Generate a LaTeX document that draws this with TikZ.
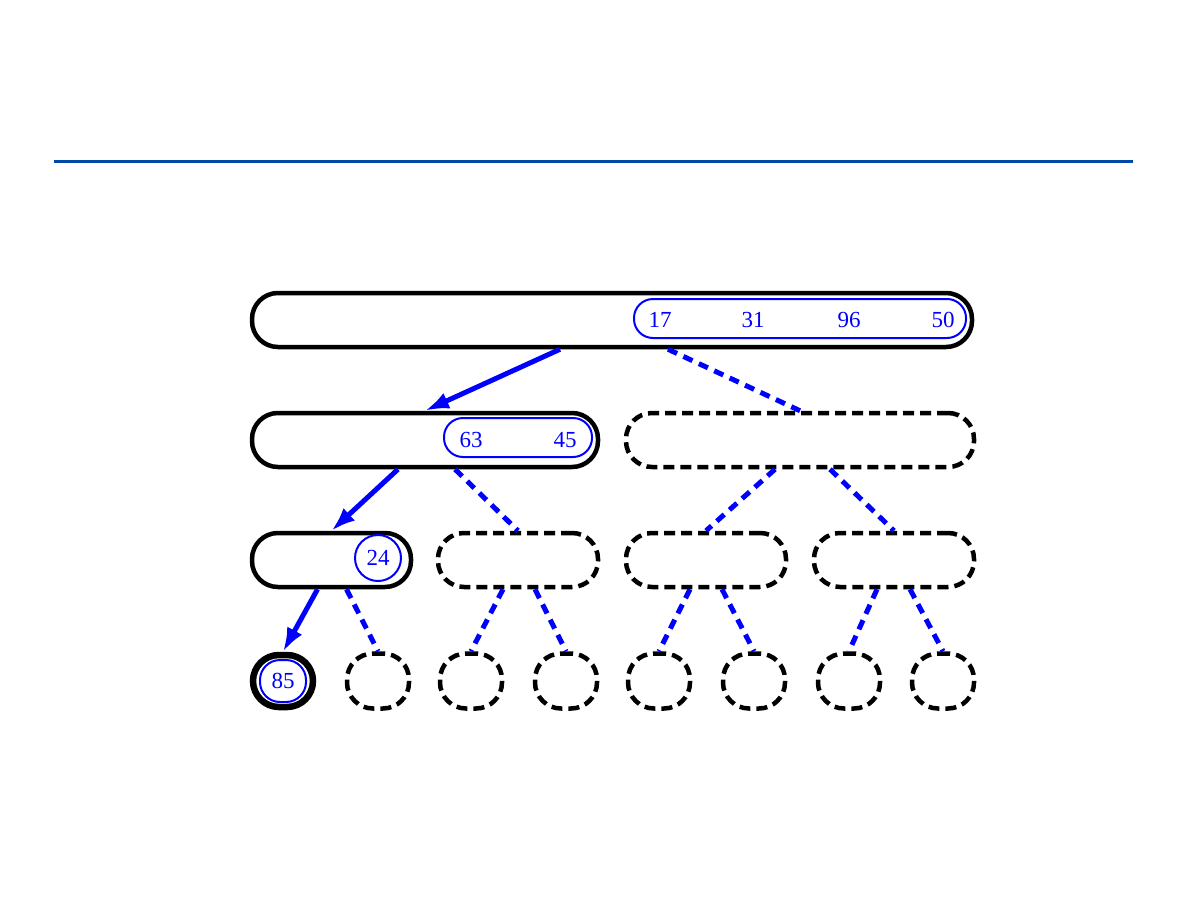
\documentclass[tikz,border=0pt]{standalone}
\usepackage{fontspec}
\setmainfont{Liberation Serif}
\usepackage{tikz}
\usetikzlibrary{arrows.meta}
\definecolor{rulecol}{RGB}{0,72,168}

\begin{document}
\begin{tikzpicture}[x=1pt, y=-1pt, >={Latex[length=24pt,width=17pt]},
	box/.style={draw, line width=4.5pt, rounded corners=26pt, minimum height=54pt, inner sep=0pt},
	emptybox/.style={box, dash pattern=on 11pt off 6pt},
	leaf/.style={draw, line width=4.5pt, rounded corners=26pt, minimum width=62pt, minimum height=55pt, inner sep=0pt, dash pattern=on 11pt off 6pt},
	keys/.style={draw=blue, line width=2pt, rounded corners=19pt, minimum height=39pt, inner sep=0pt},
	num/.style={text=blue, font=\fontsize{23}{27}\selectfont},
	path/.style={->, draw=blue, line width=5pt},
	nopath/.style={draw=blue, line width=5pt, dash pattern=on 10pt off 7pt}]
	\useasboundingbox (0,0) rectangle (1188,918);
	\draw[rulecol, line width=3pt] (54,161) -- (1133,161);
	% Ebene 0
	\node[box, minimum width=720pt] (root) at (612,320) {};
	\node[keys, minimum width=332pt] (rootk) at (800,318.5) {};
	\node[num] (k17) at (660,320) {17};
	\node[num] (k31) at (753,320) {31};
	\node[num] (k96) at (849,320) {96};
	\node[num] (k50) at (943,320) {50};
	% Ebene 1
	\node[box, minimum width=346pt] (a) at (425,440) {};
	\node[keys, minimum width=148pt] (ak) at (518,437.5) {};
	\node[num] (k63) at (471,440) {63};
	\node[num] (k45) at (565,440) {45};
	\node[emptybox, minimum width=348pt] (b) at (800,440) {};
	% Ebene 2
	\node[box, minimum width=159pt] (aa) at (331.5,560) {};
	\node[keys, minimum width=46pt, minimum height=46pt, rounded corners=23pt] (aak) at (378,558) {};
	\node[num] (k24) at (378,558) {24};
	\node[emptybox, minimum width=160pt] (ab) at (518,560) {};
	\node[emptybox, minimum width=160pt] (ba) at (706,560) {};
	\node[emptybox, minimum width=160pt] (bb) at (894,560) {};
	% Ebene 3
	\node[leaf, solid, line width=6.5pt, minimum width=60pt, minimum height=52pt] (aaa) at (283,681) {};
	\node[keys, minimum width=46pt, minimum height=42pt, rounded corners=20pt] (aaak) at (283,681) {};
	\node[num] (k85) at (283,681) {85};
	\node[leaf] (aab) at (378,681) {};
	\node[leaf] (aba) at (471,681) {};
	\node[leaf] (abb) at (566,681) {};
	\node[leaf] (baa) at (659,681) {};
	\node[leaf] (bab) at (754,681) {};
	\node[leaf] (bba) at (849,681) {};
	\node[leaf] (bbb) at (943,681) {};
	% Kanten
	\draw[path] ([xshift=-52pt]root.south) -- (a.north);
	\draw[nopath] ([xshift=56pt]root.south) -- (b.north);
	\draw[path] ([xshift=-27pt]a.south) -- (aa.north);
	\draw[nopath] ([xshift=30pt]a.south) -- (ab.north);
	\draw[nopath] ([xshift=-25pt]b.south) -- (ba.north);
	\draw[nopath] ([xshift=30pt]b.south) -- (bb.north);
	\draw[path] ([xshift=-14pt]aa.south) -- (aaa.north);
	\draw[nopath] ([xshift=15pt]aa.south) -- (aab.north);
	\draw[nopath] ([xshift=-15pt]ab.south) -- (aba.north);
	\draw[nopath] ([xshift=17pt]ab.south) -- (abb.north);
	\draw[nopath] ([xshift=-16pt]ba.south) -- (baa.north);
	\draw[nopath] ([xshift=16pt]ba.south) -- (bab.north);
	\draw[nopath] ([xshift=-17pt]bb.south) -- (bba.north);
	\draw[nopath] ([xshift=16pt]bb.south) -- (bbb.north);
\end{tikzpicture}
\end{document}
